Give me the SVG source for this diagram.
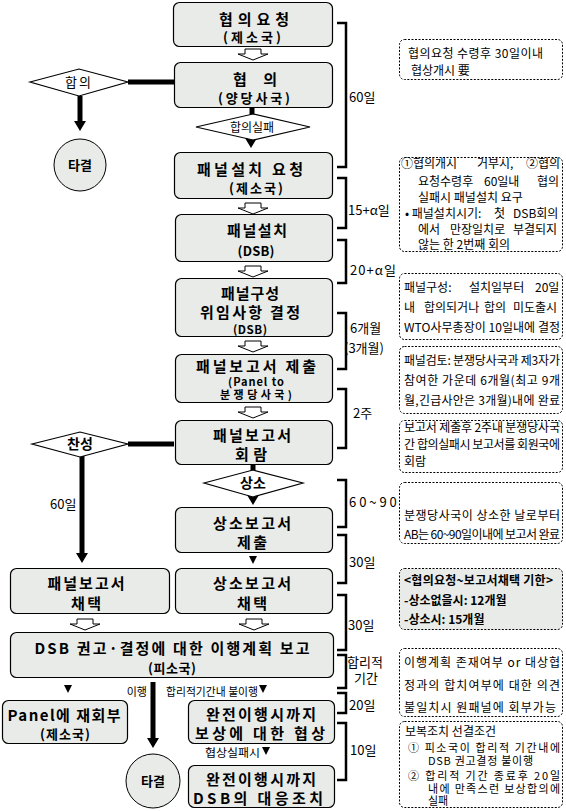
<svg xmlns="http://www.w3.org/2000/svg" width="566" height="811" viewBox="0 0 566 811">
<style>
.bx{fill:#e8ebe7;stroke:#000;stroke-width:1.2}
.dm{fill:#fff;stroke:#000;stroke-width:1.2}
.ci{fill:#e8ebe7;stroke:#000;stroke-width:1}
.nb{fill:none;stroke:#000;stroke-width:1;stroke-dasharray:2 1.5}
.ng{fill:#e8ebe7;stroke:#000;stroke-width:1;stroke-dasharray:2 1.5}
.br{fill:none;stroke:#000;stroke-width:2.5}
.tk{stroke:#000;stroke-width:5;fill:none}
.ha{fill:#fff;stroke:#000;stroke-width:1}
.ah{fill:#000}
text{font-family:"Noto Sans CJK KR","Noto Sans",sans-serif;fill:#000}
.t{font-weight:700;font-size:15px;text-anchor:middle}
.s{font-weight:700;font-size:13px;text-anchor:middle}
.l{font-size:13px}
.sm{font-size:11px}
.n{font-size:12px}
.n9{font-size:11px}
.nB{font-size:12px;font-weight:700}
</style>
<defs>
<path id="ha" class="ha" d="M-8,0 H8 V5 H15 L0,11 L-15,5 H-8 Z"/>
<path id="sa" class="ah" d="M-4,0 H4 L0,8 Z"/>
<path id="la" class="ah" d="M-6,0 H6 L0,10 Z"/>
</defs>

<g id="connectors">
<use href="#ha" x="253" y="49"/>
<use href="#ha" x="253" y="203"/>
<use href="#ha" x="253" y="266"/>
<use href="#ha" x="253" y="341"/>
<use href="#ha" x="253" y="407"/>
<use href="#ha" x="85" y="619"/>
<use href="#ha" x="254" y="619"/>
<line class="tk" x1="128" y1="82" x2="174" y2="82"/>
<line class="tk" x1="80" y1="96" x2="80" y2="122"/>
<use href="#la" x="80" y="121"/>
<line class="tk" x1="252" y1="108" x2="252" y2="115"/>
<use href="#la" x="251" y="138"/>
<line class="tk" x1="128" y1="444" x2="174" y2="444"/>
<line class="tk" x1="82" y1="456" x2="82" y2="554"/>
<use href="#la" x="82" y="553"/>
<line class="tk" x1="253" y1="464" x2="253" y2="471"/>
<use href="#la" x="253" y="495"/>
<use href="#sa" x="253" y="556"/>
<use href="#sa" x="68" y="685"/>
<line class="tk" x1="153" y1="682" x2="153" y2="740"/>
<use href="#la" x="153" y="738"/>
<use href="#sa" x="263" y="685"/>
<use href="#sa" x="266" y="747"/>
<text class="sm" x="147" y="696" text-anchor="end">이행</text>
<text class="sm" x="166" y="696" textLength="92" lengthAdjust="spacingAndGlyphs">합리적기간내 불이행</text>
<text class="sm" x="205" y="757" textLength="55" lengthAdjust="spacingAndGlyphs">협상실패시</text>
<text class="l" x="50" y="509">60일</text>
<path class="br" d="M337,23 H346 V167 H337"/>
<path class="br" d="M337,178 H346 V228 H337"/>
<path class="br" d="M337,240 H346 V283 H337"/>
<path class="br" d="M337,313 H346 V369 H337"/>
<path class="br" d="M337,389 H346 V448 H337"/>
<path class="br" d="M337,480 H346 V527 H337"/>
<path class="br" d="M337,535 H346 V583 H337"/>
<path class="br" d="M337,595 H346 V650 H337"/>
<path class="br" d="M337,655 H346 V688 H337"/>
<path class="br" d="M337,693 H346 V713 H337"/>
<path class="br" d="M337,723 H346 V780 H337"/>
<text class="l" x="349" y="102">60일</text>
<text class="l" x="348" y="215">15+α일</text>
<text class="l" x="350" y="275" textLength="46" lengthAdjust="spacing">20+α일</text>
<text class="l" x="350" y="333">6개월</text>
<text class="l" x="344" y="353">(3개월)</text>
<text class="l" x="353" y="418">2주</text>
<text class="l" x="349" y="507">6 0 ~ 9 0</text>
<text class="l" x="349" y="567">30일</text>
<text class="l" x="348" y="630">30일</text>
<text class="l" x="347" y="667">합리적</text>
<text class="l" x="354" y="683">기간</text>
<text class="l" x="349" y="710">20일</text>
<text class="l" x="350" y="755">10일</text>
</g>

<g id="n1"><rect class="bx" x="173.5" y="2.5" width="159" height="44" rx="6"/>
<text class="t" x="254" y="25" textLength="70">협의요청</text>
<text class="s" x="252" y="42" textLength="58">(제소국)</text></g>

<g id="n2"><rect class="bx" x="174.5" y="62.5" width="158" height="45" rx="6"/>
<text class="t" x="255" y="85" textLength="44">협 의</text>
<text class="s" x="254" y="103" textLength="72">(양당사국)</text></g>

<g id="d1"><polygon class="dm" points="30,82 79,69 128,82 79,96"/>
<text class="l" x="79" y="87" text-anchor="middle" letter-spacing="2">합의</text></g>

<g id="c1"><circle class="ci" cx="80" cy="165" r="26"/>
<text class="s" x="80" y="170">타결</text></g>

<g id="d2"><polygon class="dm" points="196,127 253,114 310,127 253,140"/>
<text class="n" x="252" y="132" text-anchor="middle">합의실패</text></g>

<g id="n3"><rect class="bx" x="174.5" y="152.5" width="158" height="46" rx="6"/>
<text class="t" x="250" y="175" textLength="106">패널설치 요청</text>
<text class="s" x="256" y="193" textLength="54">(제소국)</text></g>

<g id="n4"><rect class="bx" x="175.5" y="214.5" width="157" height="47" rx="6"/>
<text class="t" x="257" y="236" textLength="60">패널설치</text>
<text class="s" x="256" y="256" textLength="37">(DSB)</text></g>

<g id="n5"><rect class="bx" x="175.5" y="278.5" width="157" height="58" rx="6"/>
<text class="t" x="250" y="299" textLength="58">패널구성</text>
<text class="t" x="250" y="318" textLength="100">위임사항 결정</text>
<text class="s" x="250" y="334" style="font-size:11.5px" textLength="34">(DSB)</text></g>

<g id="n6"><rect class="bx" x="175.5" y="354.5" width="157" height="48" rx="6"/>
<text class="t" x="256" y="372" textLength="120">패널보고서 제출</text>
<text class="s" x="256" y="386" style="font-size:11px" textLength="56">(Panel to</text>
<text class="s" x="256" y="399" style="font-size:11px" textLength="72">분쟁당사국)</text></g>

<g id="n7"><rect class="bx" x="175.5" y="420.5" width="157" height="44" rx="6"/>
<text class="t" x="252" y="441" textLength="78">패널보고서</text>
<text class="t" x="251" y="460" textLength="32">회람</text></g>

<g id="d3"><polygon class="dm" points="32,444 80,432 128,444 80,457"/>
<text class="s" x="80" y="449" style="font-size:14px">찬성</text></g>

<g id="d4"><polygon class="dm" points="204,483 253,470 303,483 253,497"/>
<text class="s" x="253" y="488" style="font-size:14px">상소</text></g>

<g id="n8"><rect class="bx" x="175.5" y="507.5" width="157" height="45" rx="6"/>
<text class="t" x="252" y="529" textLength="78">상소보고서</text>
<text class="t" x="252" y="548" textLength="30">제출</text></g>

<g id="n9"><rect class="bx" x="10.5" y="568.5" width="159" height="45" rx="6"/>
<text class="t" x="86" y="589" textLength="77">패널보고서</text>
<text class="t" x="86" y="609" textLength="30">채택</text></g>

<g id="n10"><rect class="bx" x="175.5" y="568.5" width="157" height="45" rx="6"/>
<text class="t" x="252" y="589" textLength="78">상소보고서</text>
<text class="t" x="252" y="609" textLength="30">채택</text></g>

<g id="n11"><rect class="bx" x="10.5" y="632.5" width="323" height="45" rx="6"/>
<text class="t" x="172" y="654" textLength="275">DSB 권고·결정에 대한 이행계획 보고</text>
<text class="s" x="172" y="673" textLength="48">(피소국)</text></g>

<g id="n12"><rect class="bx" x="2.5" y="700.5" width="125" height="43" rx="6"/>
<text class="t" x="64" y="721" textLength="113">Panel에 재회부</text>
<text class="s" x="65" y="739" textLength="50">(제소국)</text></g>

<g id="n13"><rect class="bx" x="188.5" y="700.5" width="146" height="43" rx="6"/>
<text class="t" x="261" y="720" textLength="110">완전이행시까지</text>
<text class="t" x="260" y="739" textLength="130">보상에 대한 협상</text></g>

<g id="c2"><circle class="ci" cx="153" cy="781" r="27"/>
<text class="s" x="153" y="786">타결</text></g>

<g id="n14"><rect class="bx" x="188.5" y="765.5" width="146" height="42" rx="6"/>
<text class="t" x="261" y="785" textLength="110">완전이행시까지</text>
<text class="t" x="258" y="804" textLength="130">DSB의 대응조치</text></g>

<g id="note1"><rect class="nb" x="399.5" y="39.5" width="163" height="40" rx="5"/>
<text class="n" x="408" y="58" textLength="135">협의요청 수령후 30일이내</text>
<text class="n" x="411" y="75">협상개시 要</text></g>

<g id="note2"><rect class="nb" x="399.5" y="157.5" width="163" height="94" rx="5"/>
<text class="n" y="168"><tspan x="401">①협의개시</tspan><tspan x="477">거부시,</tspan><tspan x="526">②협의</tspan></text>
<text class="n" y="186"><tspan x="418">요청수령후</tspan><tspan x="484">60일내</tspan><tspan x="537">협의</tspan></text>
<text class="n" x="418" y="202">실패시 패널설치 요구</text>
<text class="n" y="218"><tspan x="405">• 패널설치시기:</tspan><tspan x="494">첫</tspan><tspan x="513">DSB회의</tspan></text>
<text class="n" y="234"><tspan x="418">에서</tspan><tspan x="450">만장일치로</tspan><tspan x="513">부결되지</tspan></text>
<text class="n" x="418" y="249">않는 한 2번째 회의</text></g>

<g id="note3"><rect class="nb" x="399.5" y="273.5" width="163" height="66" rx="5"/>
<text class="n" y="292"><tspan x="404">패널구성:</tspan><tspan x="469">설치일부터</tspan><tspan x="535">20일</tspan></text>
<text class="n" y="312"><tspan x="404">내</tspan><tspan x="424">합의되거나</tspan><tspan x="484">합의</tspan><tspan x="513">미도출시</tspan></text>
<text class="n" x="404" y="332" textLength="156" lengthAdjust="spacing">WTO사무총장이 10일내에 결정</text></g>

<g id="note4"><rect class="nb" x="399.5" y="346.5" width="163" height="67" rx="5"/>
<text class="n" x="404" y="365" textLength="156" lengthAdjust="spacing">패널검토: 분쟁당사국과 제3자가</text>
<text class="n" x="404" y="385" textLength="156" lengthAdjust="spacing">참여한 가운데 6개월(최고 9개</text>
<text class="n" x="404" y="405" textLength="156" lengthAdjust="spacing">월,긴급사안은 3개월)내에 완료</text></g>

<g id="note5"><rect class="nb" x="399.5" y="420.5" width="163" height="52" rx="5"/>
<text class="n" x="404" y="432" textLength="156" lengthAdjust="spacing">보고서 제출후 2주내 분쟁당사국</text>
<text class="n" x="404" y="449" textLength="156" lengthAdjust="spacing">간 합의실패시 보고서를 회원국에</text>
<text class="n" x="404" y="466">회람</text></g>

<g id="note6"><rect class="nb" x="399.5" y="482.5" width="163" height="61" rx="5"/>
<text class="n" x="404" y="520" textLength="156" lengthAdjust="spacing">분쟁당사국이 상소한 날로부터</text>
<text class="n" x="404" y="539" textLength="156" lengthAdjust="spacing">AB는 60~90일이내에 보고서 완료</text></g>

<g id="note7"><rect class="ng" x="399.5" y="568.5" width="163" height="61" rx="5"/>
<text class="nB" x="404" y="585" textLength="149" lengthAdjust="spacing">&lt;협의요청~보고서채택 기한&gt;</text>
<text class="nB" x="404" y="605">-상소없을시: 12개월</text>
<text class="nB" x="404" y="624">-상소시: 15개월</text></g>

<g id="note8"><rect class="nb" x="399.5" y="648.5" width="163" height="68" rx="5"/>
<text class="n" x="404" y="667" textLength="156" lengthAdjust="spacing">이행계획 존재여부 or 대상협</text>
<text class="n" x="404" y="690" textLength="156" lengthAdjust="spacing">정과의 합치여부에 대한 의견</text>
<text class="n" x="404" y="712" textLength="152" lengthAdjust="spacing">불일치시 원패널에 회부가능</text></g>

<g id="note9"><rect class="nb" x="399.5" y="721.5" width="163" height="86" rx="5"/>
<text class="n" x="405" y="736">보복조치 선결조건</text>
<text class="n9" x="408" y="752" textLength="152" lengthAdjust="spacing">① 피소국이 합리적 기간내에</text>
<text class="n9" x="428" y="765" textLength="105" lengthAdjust="spacing">DSB 권고결정 불이행</text>
<text class="n9" x="408" y="780" textLength="152" lengthAdjust="spacing">② 합리적 기간 종료후 20일</text>
<text class="n9" x="428" y="793" textLength="132" lengthAdjust="spacing">내에 만족스런 보상합의에</text>
<text class="n9" x="428" y="805">실패</text></g>
</svg>
